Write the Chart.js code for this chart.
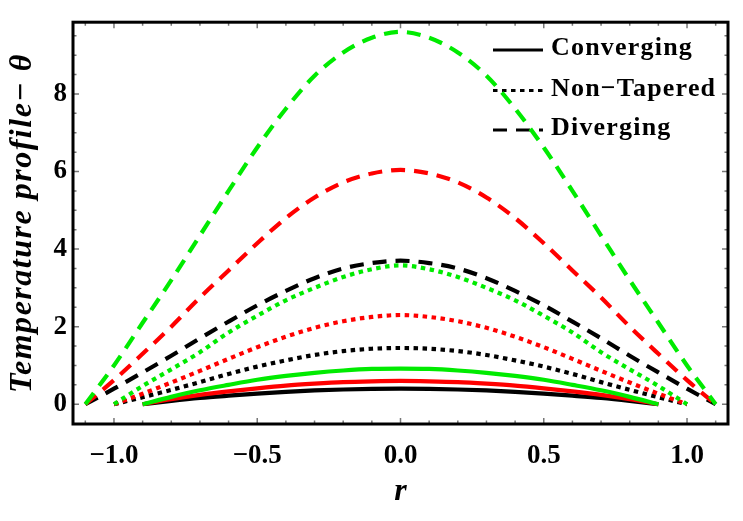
<!DOCTYPE html>
<html><head><meta charset="utf-8">
<script src="https://cdn.jsdelivr.net/npm/chart.js@4.4.1/dist/chart.umd.min.js"></script>
<style>html,body{margin:0;padding:0;background:#fff;}canvas{display:block;}</style>
</head><body>
<canvas id="c" width="743" height="521"></canvas>
<script>
// ---- data ----
const rConverging = [-0.9,-0.8,-0.7,-0.6,-0.5,-0.4,-0.3,-0.2,-0.1,0,0.1,0.2,0.3,0.4,0.5,0.6,0.7,0.8,0.9];
const convBlack = [0,0.085,0.16,0.22,0.275,0.32,0.355,0.38,0.395,0.4,0.395,0.38,0.355,0.32,0.275,0.22,0.16,0.085,0];
const convRed   = [0,0.13,0.24,0.33,0.41,0.48,0.53,0.57,0.59,0.6,0.59,0.57,0.53,0.48,0.41,0.33,0.24,0.13,0];
const convGreen = [0,0.19,0.36,0.5,0.63,0.73,0.81,0.87,0.91,0.92,0.91,0.87,0.81,0.73,0.63,0.5,0.36,0.19,0];

const rNonTapered = [-1.0,-0.9,-0.8,-0.7,-0.6,-0.5,-0.4,-0.3,-0.2,-0.1,0,0.1,0.2,0.3,0.4,0.5,0.6,0.7,0.8,0.9,1.0];
const nonBlack = [0,0.18,0.37,0.57,0.78,0.97,1.13,1.27,1.37,1.43,1.45,1.43,1.37,1.27,1.13,0.97,0.78,0.57,0.37,0.18,0];
const nonRed   = [0,0.27,0.56,0.86,1.17,1.47,1.74,1.97,2.14,2.25,2.3,2.25,2.14,1.97,1.74,1.47,1.17,0.86,0.56,0.27,0];
const nonGreen = [0,0.47,0.9,1.34,1.85,2.28,2.68,3.0,3.28,3.48,3.58,3.48,3.28,3.0,2.68,2.28,1.85,1.34,0.9,0.47,0];

const rDiverging = [-1.1,-1.0,-0.9,-0.8,-0.7,-0.6,-0.5,-0.4,-0.3,-0.2,-0.1,0,0.1,0.2,0.3,0.4,0.5,0.6,0.7,0.8,0.9,1.0,1.1];
const divBlack = [0,0.4,0.82,1.25,1.7,2.13,2.55,2.92,3.25,3.5,3.64,3.7,3.64,3.5,3.25,2.92,2.55,2.13,1.7,1.25,0.82,0.4,0];
const divRed   = [0,0.62,1.3,2.0,2.75,3.45,4.15,4.8,5.33,5.72,5.95,6.04,5.95,5.72,5.33,4.8,4.15,3.45,2.75,2.0,1.3,0.62,0];
const divGreen = [0,1.0,2.1,3.2,4.35,5.5,6.62,7.62,8.47,9.07,9.45,9.6,9.45,9.07,8.47,7.62,6.62,5.5,4.35,3.2,2.1,1.0,0];

const xTickValues = [-1.0,-0.5,0,0.5,1.0];
const xTickLabels = ['\u22121.0','\u22120.5','0.0','0.5','1.0'];
const yTickValues = [0,2,4,6,8];
const yTickLabels = ['0','2','4','6','8'];
const legendLabels = ['Converging','Non\u2212Tapered','Diverging'];
const xTitle = 'r';
const yTitle = 'Temperature profile\u2212 \u03b8';

// ---- styles ----
const GREEN = 'rgb(0,235,0)', RED = 'rgb(255,0,0)', BLACK = '#000';
const DOT = [4.5, 4.5], DASH = [14, 9];
function pts(xs, ys){ return xs.map((x,i)=>({x:x, y:ys[i]})); }
function ds(xs, ys, color, dash){
  return {data: pts(xs, ys), borderColor: color, backgroundColor: color, borderWidth: 4.2,
    borderDash: dash, borderCapStyle: 'butt', showLine: true, pointRadius: 0,
    cubicInterpolationMode: 'monotone', fill: false};
}
const datasets = [
  ds(rDiverging, divGreen, GREEN, DASH),
  ds(rDiverging, divRed, RED, DASH),
  ds(rDiverging, divBlack, BLACK, DASH),
  ds(rNonTapered, nonGreen, GREEN, DOT),
  ds(rNonTapered, nonRed, RED, DOT),
  ds(rNonTapered, nonBlack, BLACK, DOT),
  ds(rConverging, convGreen, GREEN, []),
  ds(rConverging, convRed, RED, []),
  ds(rConverging, convBlack, BLACK, []),
];

const legendPlugin = {
  id: 'insideLegend',
  beforeDatasetsDraw(chart){
    const ctx = chart.ctx;
    const dashes = [[], DOT, DASH];
    const ys = [50, 90.5, 130];
    ctx.save();
    for (let i = 0; i < legendLabels.length; i++){
      ctx.beginPath();
      ctx.setLineDash(dashes[i]);
      ctx.lineWidth = 3.2; ctx.strokeStyle = '#000'; ctx.lineCap = 'butt';
      ctx.moveTo(493, ys[i]); ctx.lineTo(543, ys[i]); ctx.stroke();
      ctx.setLineDash([]);
      ctx.font = 'bold 26px "Liberation Serif"';
      try { ctx.letterSpacing = '1.2px'; } catch(e){}
      ctx.fillStyle = '#000'; ctx.textAlign = 'left'; ctx.textBaseline = 'alphabetic';
      ctx.fillText(legendLabels[i], 551, ys[i] + 5);
    }
    ctx.restore();
  }
};

const framePlugin = {
  id: 'frame',
  afterDatasetsDraw(chart){
    const ctx = chart.ctx, a = chart.chartArea;
    const xs = chart.scales.x, ys = chart.scales.y;
    ctx.save();
    ctx.strokeStyle = '#777'; ctx.lineWidth = 1.5; ctx.setLineDash([]);
    ctx.beginPath();
    for (let k = -11; k <= 11; k++){
      const v = k / 10, px = xs.getPixelForValue(v);
      const len = (k % 5 === 0) ? 6 : 3.5;
      ctx.moveTo(px, a.bottom); ctx.lineTo(px, a.bottom - len);
      ctx.moveTo(px, a.top); ctx.lineTo(px, a.top + len);
    }
    for (let k = 0; k <= 19; k++){
      const v = k / 2, py = ys.getPixelForValue(v);
      const len = (k % 4 === 0) ? 6 : 3.5;
      ctx.moveTo(a.left, py); ctx.lineTo(a.left + len, py);
      ctx.moveTo(a.right, py); ctx.lineTo(a.right - len, py);
    }
    ctx.stroke();
    ctx.strokeStyle = '#000'; ctx.lineWidth = 3;
    ctx.strokeRect(a.left, a.top, a.right - a.left, a.bottom - a.top);
    ctx.restore();
  },
  afterDraw(chart){
    const ctx = chart.ctx, a = chart.chartArea;
    ctx.save();
    ctx.fillStyle = '#000';
    ctx.font = 'italic bold 32px "Liberation Serif"';
    ctx.translate(23, (a.top + a.bottom) / 2);
    ctx.rotate(-Math.PI / 2);
    ctx.textAlign = 'center'; ctx.textBaseline = 'middle';
    const w0 = ctx.measureText(yTitle).width;
    try { ctx.letterSpacing = Math.max(0, (340 - w0) / yTitle.length).toFixed(2) + 'px'; } catch(e){}
    ctx.fillText(yTitle, 0, 0);
    ctx.restore();
    ctx.save();
    ctx.fillStyle = '#000';
    ctx.font = 'italic bold 32px "Liberation Serif"';
    ctx.textAlign = 'center'; ctx.textBaseline = 'middle';
    ctx.fillText(xTitle, (a.left + a.right) / 2, 492);
    ctx.restore();
  }
};

const tickFont = {family: '"Liberation Serif"', size: 27, weight: 'bold'};
new Chart(document.getElementById('c'), {
  type: 'scatter',
  data: {datasets},
  options: {
    responsive: false, animation: false,
    layout: {padding: {top: 17, right: 15, left: 0, bottom: 0}},
    plugins: {legend: {display: false}, tooltip: {enabled: false}},
    scales: {
      x: {type: 'linear', min: -1.143, max: 1.143,
        grid: {display: false, drawTicks: false}, border: {display: false},
        afterBuildTicks: s => { s.ticks = xTickValues.map(v => ({value: v})); },
        afterFit: s => { s.height = 97; },
        ticks: {font: tickFont, color: '#000', padding: 16, maxRotation: 0, autoSkip: false,
          callback: (v, i) => xTickLabels[i]}},
      y: {type: 'linear', min: -0.51, max: 9.85,
        grid: {display: false, drawTicks: false}, border: {display: false},
        afterBuildTicks: s => { s.ticks = yTickValues.map(v => ({value: v})); },
        afterFit: s => { s.width = 73; },
        ticks: {font: tickFont, color: '#000', padding: 6, autoSkip: false,
          callback: (v, i) => yTickLabels[i]}}
    }
  },
  plugins: [legendPlugin, framePlugin]
});
</script>
</body></html>
